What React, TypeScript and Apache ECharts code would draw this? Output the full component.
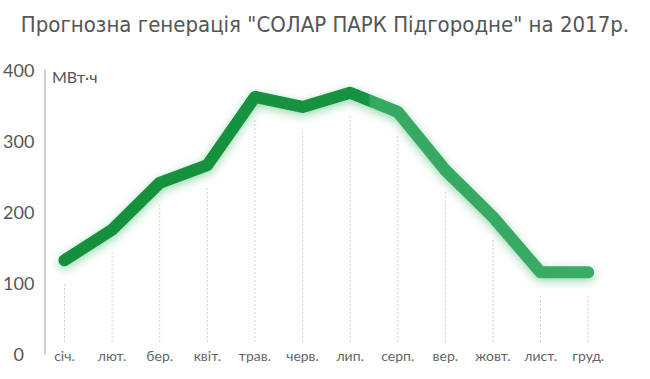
import React, { useEffect, useRef } from "react";
import * as echarts from "echarts";

const months = ["січ.", "лют.", "бер.", "квіт.", "трав.", "черв.", "лип.", "серп.", "вер.", "жовт.", "лист.", "груд."];
const generation = [132, 175, 241, 266, 362, 348, 368, 341, 259, 193, 115, 115];
const yTicks = [0, 100, 200, 300, 400];
const titleText = 'Прогнозна генерація "СОЛАР ПАРК Підгородне" на 2017р.';
const unitText = "МВт·ч";

export default function App() {
  const ref = useRef<HTMLDivElement>(null);
  useEffect(() => {
    if (!ref.current) return;
    const chart = echarts.init(ref.current, undefined, { renderer: "svg" });
    chart.setOption({
      animation: false,
      backgroundColor: "#ffffff",
      title: {
        text: titleText,
        left: "center",
        top: 8,
        textStyle: {
          fontFamily: "'DejaVu Sans Condensed', 'Liberation Sans Narrow', 'Noto Sans', sans-serif",
          fontSize: 22,
          fontWeight: "normal",
          color: "#555555",
        },
      },
      graphic: [
        {
          type: "text",
          left: 52,
          top: 68,
          style: {
            text: unitText,
            fontFamily: "Lato, 'Noto Sans', sans-serif",
            fontSize: 16,
            fill: "#555555",
          },
        },
      ],
      grid: { left: 38, right: 38, top: 70, bottom: 25, containLabel: false },
      xAxis: {
        type: "category",
        data: months,
        boundaryGap: true,
        axisLine: { show: false },
        axisTick: { show: false },
        splitLine: { show: false },
        axisLabel: {
          margin: 1,
          verticalAlign: "middle",
          fontFamily: "Lato, 'Noto Sans', sans-serif",
          fontSize: 14,
          color: "#666666",
          interval: 0,
        },
      },
      yAxis: {
        type: "value",
        min: yTicks[0],
        max: yTicks[yTicks.length - 1],
        interval: 100,
        offset: -4,
        axisLine: { show: true, lineStyle: { color: "#d0d0d0", width: 2 } },
        axisTick: { show: false },
        splitLine: { show: false },
        axisLabel: {
          align: "center",
          margin: 26,
          fontFamily: "Lato, 'Noto Sans', sans-serif",
          fontSize: 18,
          color: "#555555",
        },
      },
      series: [
        {
          type: "custom",
          z: 1,
          silent: true,
          data: generation.map((v, i) => [i, v]),
          renderItem: (params: any, api: any) => {
            const base = api.coord([api.value(0), 0]);
            const pt = api.coord([api.value(0), api.value(1)]);
            return {
              type: "line",
              shape: { x1: base[0], y1: base[1] - 12, x2: base[0], y2: pt[1] + 22 },
              style: { stroke: "#cfcfcf", lineWidth: 1, lineDash: [2, 2] },
            };
          },
        },
        {
          type: "line",
          z: 3,
          data: generation,
          symbol: "none",
          smooth: false,
          lineStyle: {
            width: 12,
            cap: "round",
            join: "round",
            color: new echarts.graphic.LinearGradient(0, 0, 1, 0, [
              { offset: 0, color: "#138f3c" },
              { offset: 0.58, color: "#189341" },
              { offset: 0.585, color: "#36a862" },
              { offset: 1, color: "#3aab65" },
            ]),
            shadowColor: "rgba(40,170,80,0.45)",
            shadowBlur: 10,
            shadowOffsetY: 3,
          },
        },
      ],
    });
    return () => chart.dispose();
  }, []);
  return <div ref={ref} style={{ width: 650, height: 379, position: "absolute", left: 0, top: 0 }} />;
}
